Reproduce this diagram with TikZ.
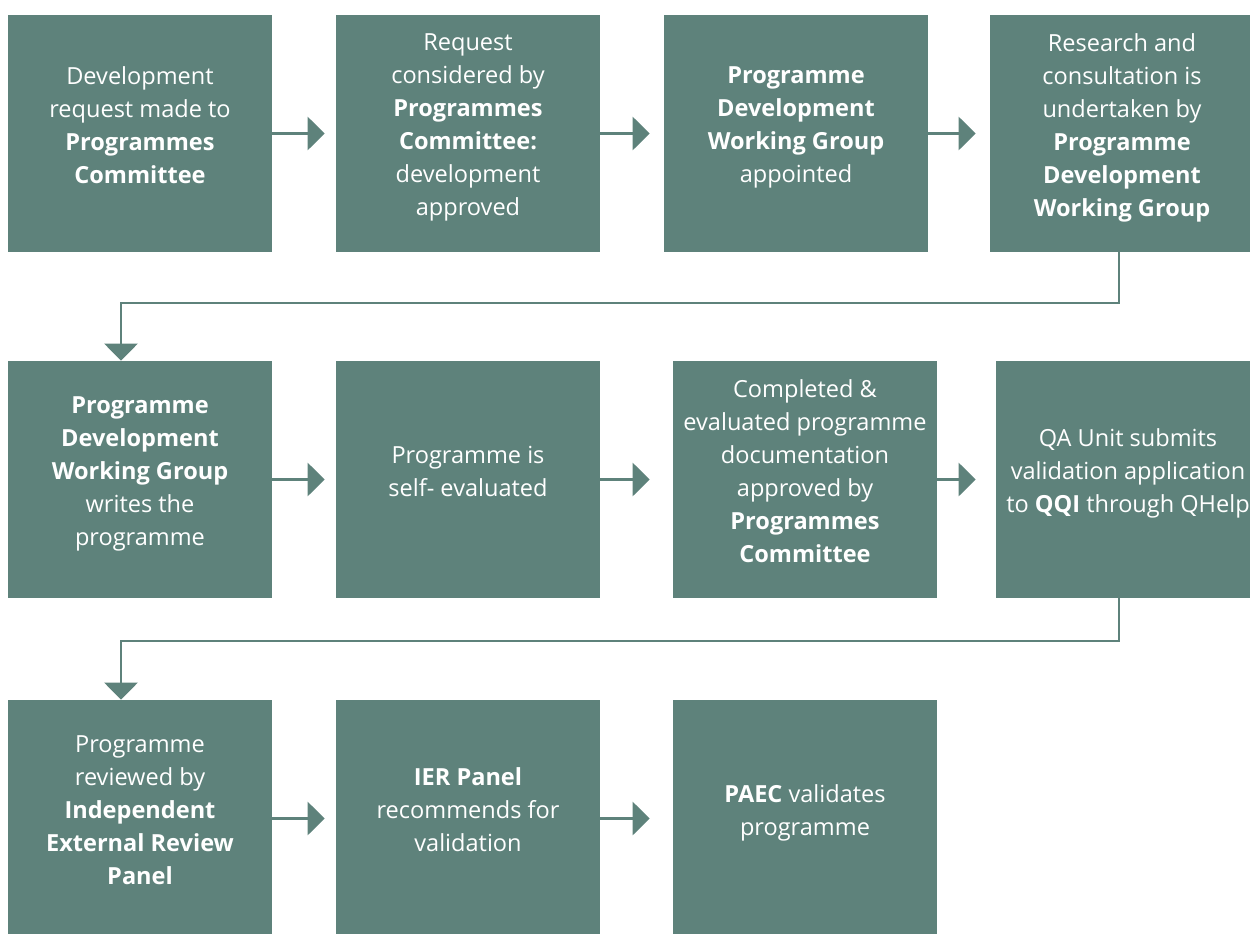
\documentclass[tikz,border=0pt]{standalone}
\usepackage{fontspec}
\setmainfont{Open Sans}
\usetikzlibrary{arrows.meta,calc,positioning}
\definecolor{stepgreen}{RGB}{94,130,123}
\tikzset{stepbox/.style={fill=stepgreen, text=white, inner sep=0pt,
		minimum width=5.28cm, minimum height=4.74cm, align=center, text depth=0.34cm,
		font=\fontsize{13.4}{18.8}\selectfont}}
\tikzset{flow/.style={draw=stepgreen, line width=1.5pt,
		-{Triangle[length=0.34cm,width=0.66cm]}}}

\begin{document}
\begin{tikzpicture}[x=0.02cm, y=-0.02cm]
		\useasboundingbox (0,0) rectangle (1250,933);
		
		% first row
		\node[stepbox] (r1c1) at (140,133.5) {Development\\request made to\\\textbf{Programmes}\\\textbf{Committee}};
		\node[stepbox] (r1c2) at (468,133.5) {Request\\considered by\\\textbf{Programmes}\\\textbf{Committee:}\\development\\approved};
		\node[stepbox] (r1c3) at (796,133.5) {\textbf{Programme}\\\textbf{Development}\\\textbf{Working Group}\\appointed};
		\node[stepbox] (r1c4) at (1122,133.5) {Research and\\consultation is\\undertaken by\\\textbf{Programme}\\\textbf{Development}\\\textbf{Working Group}};
		
		% second row
		\node[stepbox] (r2c1) at (140,479.5) {\textbf{Programme}\\\textbf{Development}\\\textbf{Working Group}\\writes the\\programme};
		\node[stepbox] (r2c2) at (468,479.5) {Programme is\\self- evaluated};
		\node[stepbox] (r2c3) at (805,479.5) {Completed \&\\evaluated programme\\documentation\\approved by\\\textbf{Programmes}\\\textbf{Committee}};
		\node[stepbox] (r2c4) at (1128,479.5) {QA Unit submits\\validation application\\to \textbf{QQI} through QHelp};
		
		% third row
		\node[stepbox] (r3c1) at (140,818.5) {Programme\\reviewed by\\\textbf{Independent}\\\textbf{External Review}\\\textbf{Panel}};
		\node[stepbox] (r3c2) at (468,818.5) {\textbf{IER Panel}\\recommends for\\validation};
		\node[stepbox] (r3c3) at (805,818.5) {\textbf{PAEC} validates\\programme};
		
		\coordinate (turn1) at (121,303);
		\coordinate (turn2) at (121,641);
		
		\draw[flow, shorten >=0.22cm] (r1c1) -- (r1c2);
		\draw[flow, shorten >=0.28cm] (r1c2) -- (r1c3);
		\draw[flow, shorten >=0.28cm] (r1c3) -- (r1c4);
		\draw[flow] (r1c4.south) ++(-3,0) |- (turn1) -- (turn1 |- r2c1.north);
		
		\draw[flow, shorten >=0.22cm] (r2c1) -- (r2c2);
		\draw[flow, shorten >=0.46cm] (r2c2) -- (r2c3);
		\draw[flow, shorten >=0.40cm] (r2c3) -- (r2c4);
		\draw[flow] (r2c4.south) ++(-9,0) |- (turn2) -- (turn2 |- r3c1.north);
		
		\draw[flow, shorten >=0.22cm] (r3c1) -- (r3c2);
		\draw[flow, shorten >=0.46cm] (r3c2) -- (r3c3);
\end{tikzpicture}
\end{document}
